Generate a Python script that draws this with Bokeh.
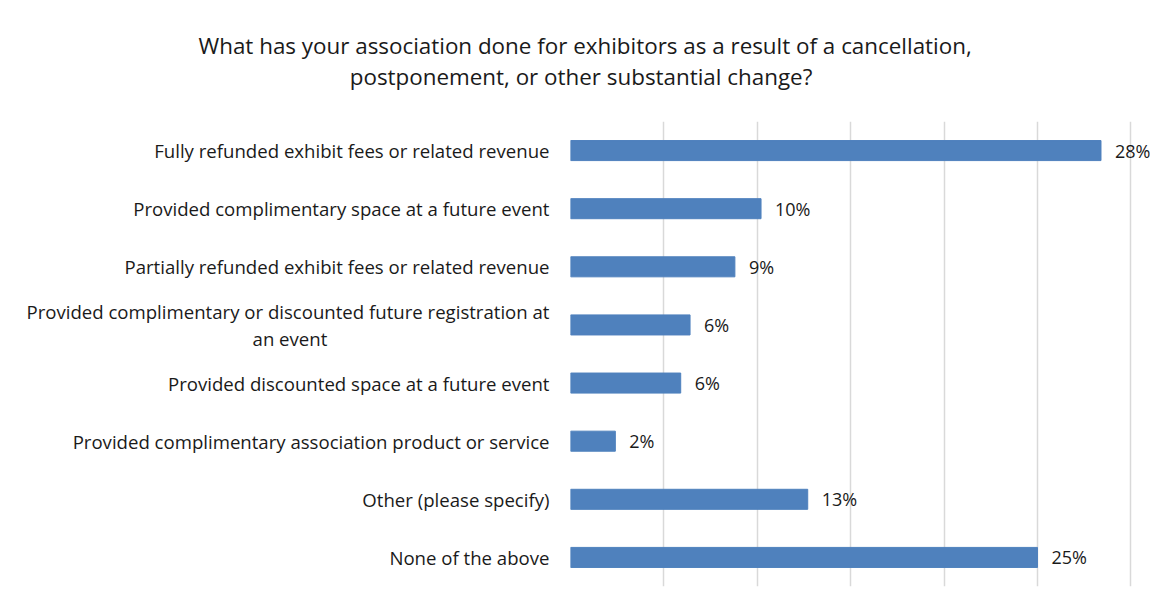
from bokeh.plotting import figure
from bokeh.models import ColumnDataSource, FactorRange, Range1d, FixedTicker, LabelSet, Title
from bokeh.core.properties import value
from bokeh.embed import file_html
from bokeh.resources import INLINE

title_lines = [
    "What has your association done for exhibitors as a result of a cancellation,",
    "postponement, or other substantial change?",
]
categories = [
    "Fully refunded exhibit fees or related revenue",
    "Provided complimentary space at a future event",
    "Partially refunded exhibit fees or related revenue",
    "Provided complimentary or discounted future registration at\nan event",
    "Provided discounted space at a future event",
    "Provided complimentary association product or service",
    "Other (please specify)",
    "None of the above",
]
values = [28.4, 10.2, 8.8, 6.4, 5.9, 2.4, 12.7, 25.0]
grid_ticks = [0, 5, 10, 15, 20, 25, 30]

FONT = "Open Sans"
BAR = "#4F81BD"
TXT = "#1a1a1a"
NB, ZW = "\u00a0", "\u200b"


def wrap_label(c):
    # Excel centres the wrapped second line under the first one
    if "\n" not in c:
        return c
    first, second = c.split("\n")
    return first + "\n" + second + NB * 46 + ZW


factors = [wrap_label(c) for c in categories]
labels = [f"{round(v)}%" for v in values]
src = ColumnDataSource(dict(cat=factors, val=values, lab=labels))

p = figure(
    width=1150, height=608, title=None,
    y_range=FactorRange(factors=list(reversed(factors)), range_padding=0),
    x_range=Range1d(0, 31.05),
    x_axis_location=None,
    output_backend="svg", toolbar_location=None,
    min_border_left=570, min_border_right=0, min_border_top=121, min_border_bottom=22,
)
p.outline_line_color = None
p.background_fill_color = "white"
p.border_fill_color = "white"

# two-line title, second line centred under the first (padding kept from trimming)
p.add_layout(Title(
    text=title_lines[0] + "\n" + ZW + NB * 26 + title_lines[1],
    align="left", vertical_align="top", offset=-372, standoff=56,
    text_font=FONT, text_font_size="22.4px", text_font_style="normal",
    text_color=TXT, text_line_height=1.0), "above")

p.hbar(y="cat", left=0, right="val", height=0.345, source=src,
       fill_color=BAR, line_color=BAR)

p.xgrid.ticker = FixedTicker(ticks=grid_ticks)
p.xgrid.grid_line_color = "#d9d9d9"
p.xgrid.grid_line_width = 1.5
p.ygrid.grid_line_color = None

ax = p.yaxis[0]
ax.axis_line_color = None
ax.major_tick_line_color = None
ax.minor_tick_line_color = None
ax.major_label_standoff = 15
ax.major_label_text_font = FONT
ax.major_label_text_font_size = "18.6px"
ax.major_label_text_color = TXT
ax.major_label_text_line_height = 1.05

p.add_layout(LabelSet(x="val", y="cat", text="lab", source=src, x_offset=14,
                      text_align="left", text_baseline="middle",
                      text_font=value(FONT), text_font_size="18px", text_color=TXT))

open("out.html", "w").write(file_html(p, INLINE))
